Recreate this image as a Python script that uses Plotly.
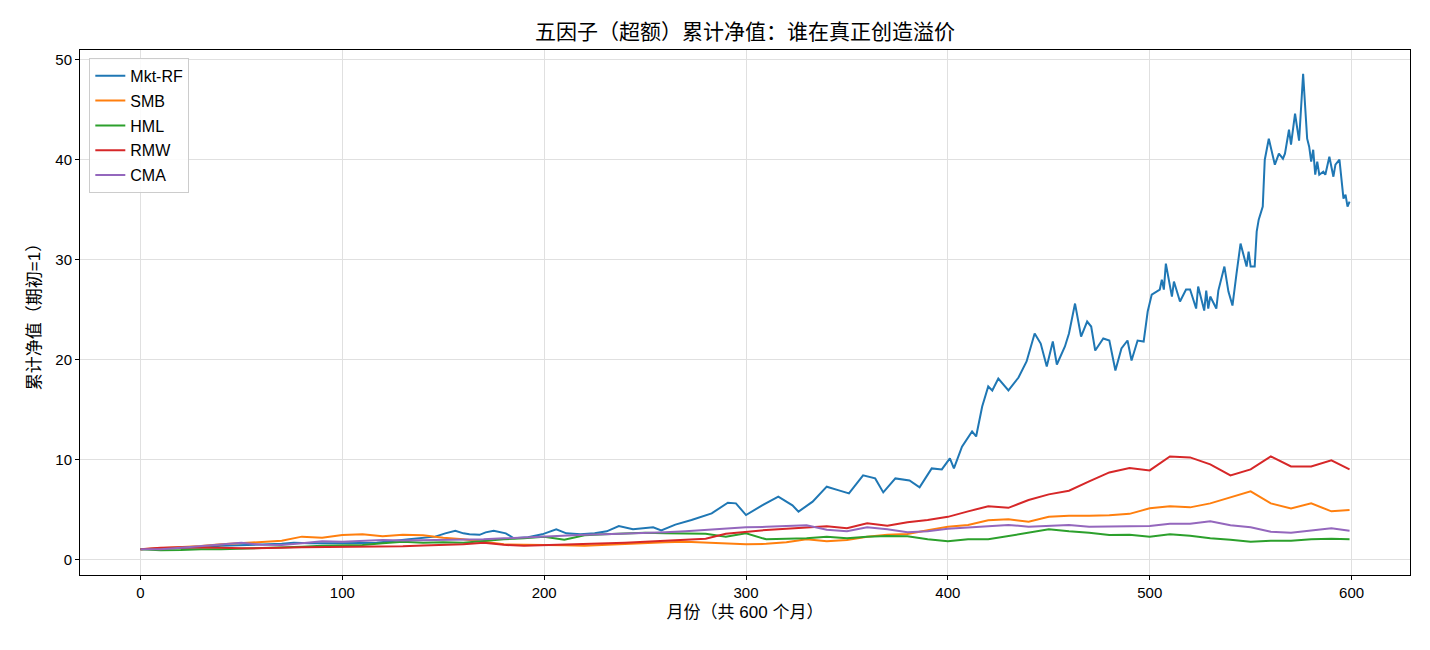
import plotly.graph_objects as go

# ---------------- data ----------------
mkt_months = [0, 10, 20, 30, 40, 50, 60, 70, 76, 84, 100, 117, 133, 146, 151, 156, 160, 163, 168, 171,
              175, 181, 185, 192, 199, 206, 211, 218, 225, 231, 237, 244, 254, 258, 265, 273, 283, 291, 295, 300,
              308, 316, 323, 326, 333, 340, 346, 351, 358, 364, 368, 374, 381, 386, 392, 397, 401, 403, 407, 412,
              414, 417, 420, 422, 425, 430, 435, 439, 443, 446, 449, 452, 454, 458, 460, 463, 466, 469, 471, 473,
              477, 480, 483, 486, 489, 491, 494, 497, 499, 501, 505, 506, 507, 508, 511, 512, 515, 518, 520, 523,
              524, 527, 528, 529, 530, 533, 534, 537, 539, 541, 543, 545, 548, 549, 550, 552, 553, 554, 556, 557,
              559, 562, 564, 566, 567, 569, 570, 572, 574, 576, 578, 579, 580, 581, 582, 583, 584, 586, 587, 589,
              591, 592, 594, 596, 597, 598, 599]
mkt_rf = [1.0, 1.05, 1.1, 1.2, 1.35, 1.4, 1.5, 1.55, 1.66, 1.6, 1.6, 1.66, 2.0, 2.27, 2.6, 2.85, 2.6, 2.5, 2.45, 2.7,
          2.86, 2.6, 2.1, 2.2, 2.5, 3.0, 2.6, 2.5, 2.6, 2.8, 3.33, 3.0, 3.2, 2.9, 3.47, 3.93, 4.6, 5.67, 5.6, 4.43,
          5.4, 6.27, 5.4, 4.77, 5.77, 7.27, 6.9, 6.6, 8.4, 8.1, 6.7, 8.1, 7.9, 7.2, 9.1, 9.0, 10.1, 9.1, 11.27, 12.8,
          12.3, 15.3, 17.3, 16.9, 18.1, 16.9, 18.2, 19.8, 22.6, 21.6, 19.3, 21.8, 19.5, 21.3, 22.6, 25.6, 22.3, 23.8, 23.3, 20.9,
          22.1, 21.9, 18.9, 21.1, 21.9, 19.9, 21.9, 21.8, 24.8, 26.5, 27.0, 28.0, 27.0, 29.6, 26.3, 27.8, 25.8, 27.0, 27.0, 25.1,
          27.3, 24.9, 26.9, 25.1, 26.3, 25.1, 26.9, 29.3, 26.8, 25.4, 28.6, 31.6, 29.3, 30.8, 29.3, 29.3, 32.8, 34.0, 35.3, 40.0,
          42.1, 39.5, 40.6, 40.1, 40.6, 43.0, 41.5, 44.6, 41.9, 48.6, 42.1, 41.3, 39.8, 41.0, 38.5, 39.8, 38.5, 38.8, 38.5, 40.3,
          38.3, 39.5, 40.0, 36.1, 36.5, 35.3, 35.8]

months = [0, 10, 20, 30, 40, 50, 60, 70, 80, 90, 100, 110, 120, 130, 140, 150, 160, 170, 180, 190,
          200, 210, 220, 230, 240, 250, 260, 270, 280, 290, 300, 310, 320, 330, 340, 350, 360, 370, 380, 390,
          400, 410, 420, 430, 440, 450, 460, 470, 480, 490, 500, 510, 520, 530, 540, 550, 560, 570, 580, 590, 599]

smb = [1.0, 1.1, 1.2, 1.33, 1.5, 1.62, 1.72, 1.86, 2.27, 2.15, 2.43, 2.5, 2.3, 2.45, 2.4, 2.15, 2.0, 1.75, 1.5, 1.45,
       1.45, 1.4, 1.35, 1.45, 1.55, 1.67, 1.7, 1.77, 1.7, 1.6, 1.5, 1.55, 1.7, 2.0, 1.8, 1.93, 2.25, 2.45, 2.53, 2.9,
       3.27, 3.44, 3.9, 4.0, 3.77, 4.27, 4.35, 4.35, 4.4, 4.55, 5.1, 5.3, 5.2, 5.6, 6.2, 6.8, 5.6, 5.1, 5.6, 4.8, 4.94]

hml = [1.0, 0.9, 0.92, 1.0, 1.0, 1.05, 1.1, 1.15, 1.25, 1.35, 1.4, 1.43, 1.6, 1.75, 1.66, 1.7, 1.66, 1.85, 2.0, 2.1,
       2.27, 1.95, 2.4, 2.5, 2.6, 2.65, 2.6, 2.55, 2.55, 2.27, 2.6, 2.0, 2.05, 2.1, 2.27, 2.1, 2.25, 2.33, 2.3, 2.0,
       1.8, 2.0, 2.0, 2.33, 2.6, 3.0, 2.8, 2.66, 2.44, 2.45, 2.27, 2.5, 2.35, 2.1, 1.95, 1.75, 1.87, 1.87, 2.0, 2.05, 2.0]

rmw = [1.0, 1.15, 1.2, 1.2, 1.15, 1.1, 1.1, 1.15, 1.2, 1.22, 1.2, 1.25, 1.27, 1.3, 1.38, 1.43, 1.5, 1.65, 1.45, 1.35,
       1.4, 1.45, 1.5, 1.55, 1.65, 1.75, 1.85, 1.95, 2.05, 2.55, 2.74, 2.94, 3.05, 3.2, 3.3, 3.1, 3.6, 3.35, 3.7, 3.93,
       4.25, 4.8, 5.3, 5.15, 5.94, 6.5, 6.87, 7.8, 8.7, 9.15, 8.9, 10.3, 10.2, 9.5, 8.4, 9.0, 10.3, 9.3, 9.3, 9.9, 9.0]

cma = [1.0, 1.0, 1.15, 1.33, 1.55, 1.66, 1.45, 1.43, 1.6, 1.8, 1.77, 1.85, 1.93, 1.88, 1.9, 1.98, 2.0, 2.0, 2.1, 2.2,
       2.27, 2.35, 2.45, 2.5, 2.55, 2.65, 2.7, 2.8, 2.95, 3.1, 3.2, 3.25, 3.3, 3.4, 2.95, 2.8, 3.2, 3.0, 2.7, 2.8,
       3.05, 3.2, 3.33, 3.44, 3.27, 3.35, 3.44, 3.25, 3.27, 3.27, 3.33, 3.55, 3.55, 3.8, 3.4, 3.2, 2.75, 2.65, 2.9, 3.1, 2.87]

series_names = ["Mkt-RF", "SMB", "HML", "RMW", "CMA"]
x_ticks = [0, 100, 200, 300, 400, 500, 600]
y_ticks = [0, 10, 20, 30, 40, 50]

title_text = "五因子（超额）累计净值：谁在真正创造溢价"
x_title = "月份（共 600 个月）"
y_title = "累计净值（期初=1）"

# ---------------- figure ----------------
colors = ["#1f77b4", "#ff7f0e", "#2ca02c", "#d62728", "#9467bd"]
xs = [mkt_months, months, months, months, months]
ys = [mkt_rf, smb, hml, rmw, cma]

FONT = "Liberation Sans, Arial, Noto Sans CJK SC, sans-serif"

fig = go.Figure()
for name, x, y, c in zip(series_names, xs, ys, colors):
    fig.add_trace(go.Scatter(x=x, y=y, mode="lines", name=name, legendgroup=name,
                             line=dict(color=c, width=2)))

axis_common = dict(showline=True, linecolor="black", linewidth=1, mirror=True,
                   ticks="outside", ticklen=4, tickcolor="black",
                   showgrid=True, gridcolor="#e0e0e0", gridwidth=1, zeroline=False,
                   tickfont=dict(family=FONT, size=15, color="black"))

fig.update_layout(
    width=1430, height=650,
    margin=dict(l=80, r=20, t=50, b=75),
    paper_bgcolor="white", plot_bgcolor="white",
    font=dict(family=FONT, size=15, color="black"),
    title=dict(text=title_text, x=0.5, xref="paper", xanchor="center", y=1 - 32 / 650, yanchor="middle",
               font=dict(family=FONT, size=21, color="black")),
    xaxis=dict(range=[-29.95, 628.95], tickvals=x_ticks,
               title=dict(text=x_title, font=dict(family=FONT, size=17), standoff=6), **axis_common),
    yaxis=dict(range=[-1.57, 50.98], tickvals=y_ticks,
               title=dict(text=y_title, font=dict(family=FONT, size=17), standoff=10), **axis_common),
    legend=dict(x=0.007, y=0.985, xanchor="left", yanchor="top",
                bgcolor="rgba(255,255,255,0.85)", bordercolor="#cccccc", borderwidth=1,
                font=dict(family=FONT, size=16, color="black"), tracegroupgap=1),
    showlegend=True,
)

fig.write_html("out.html")
